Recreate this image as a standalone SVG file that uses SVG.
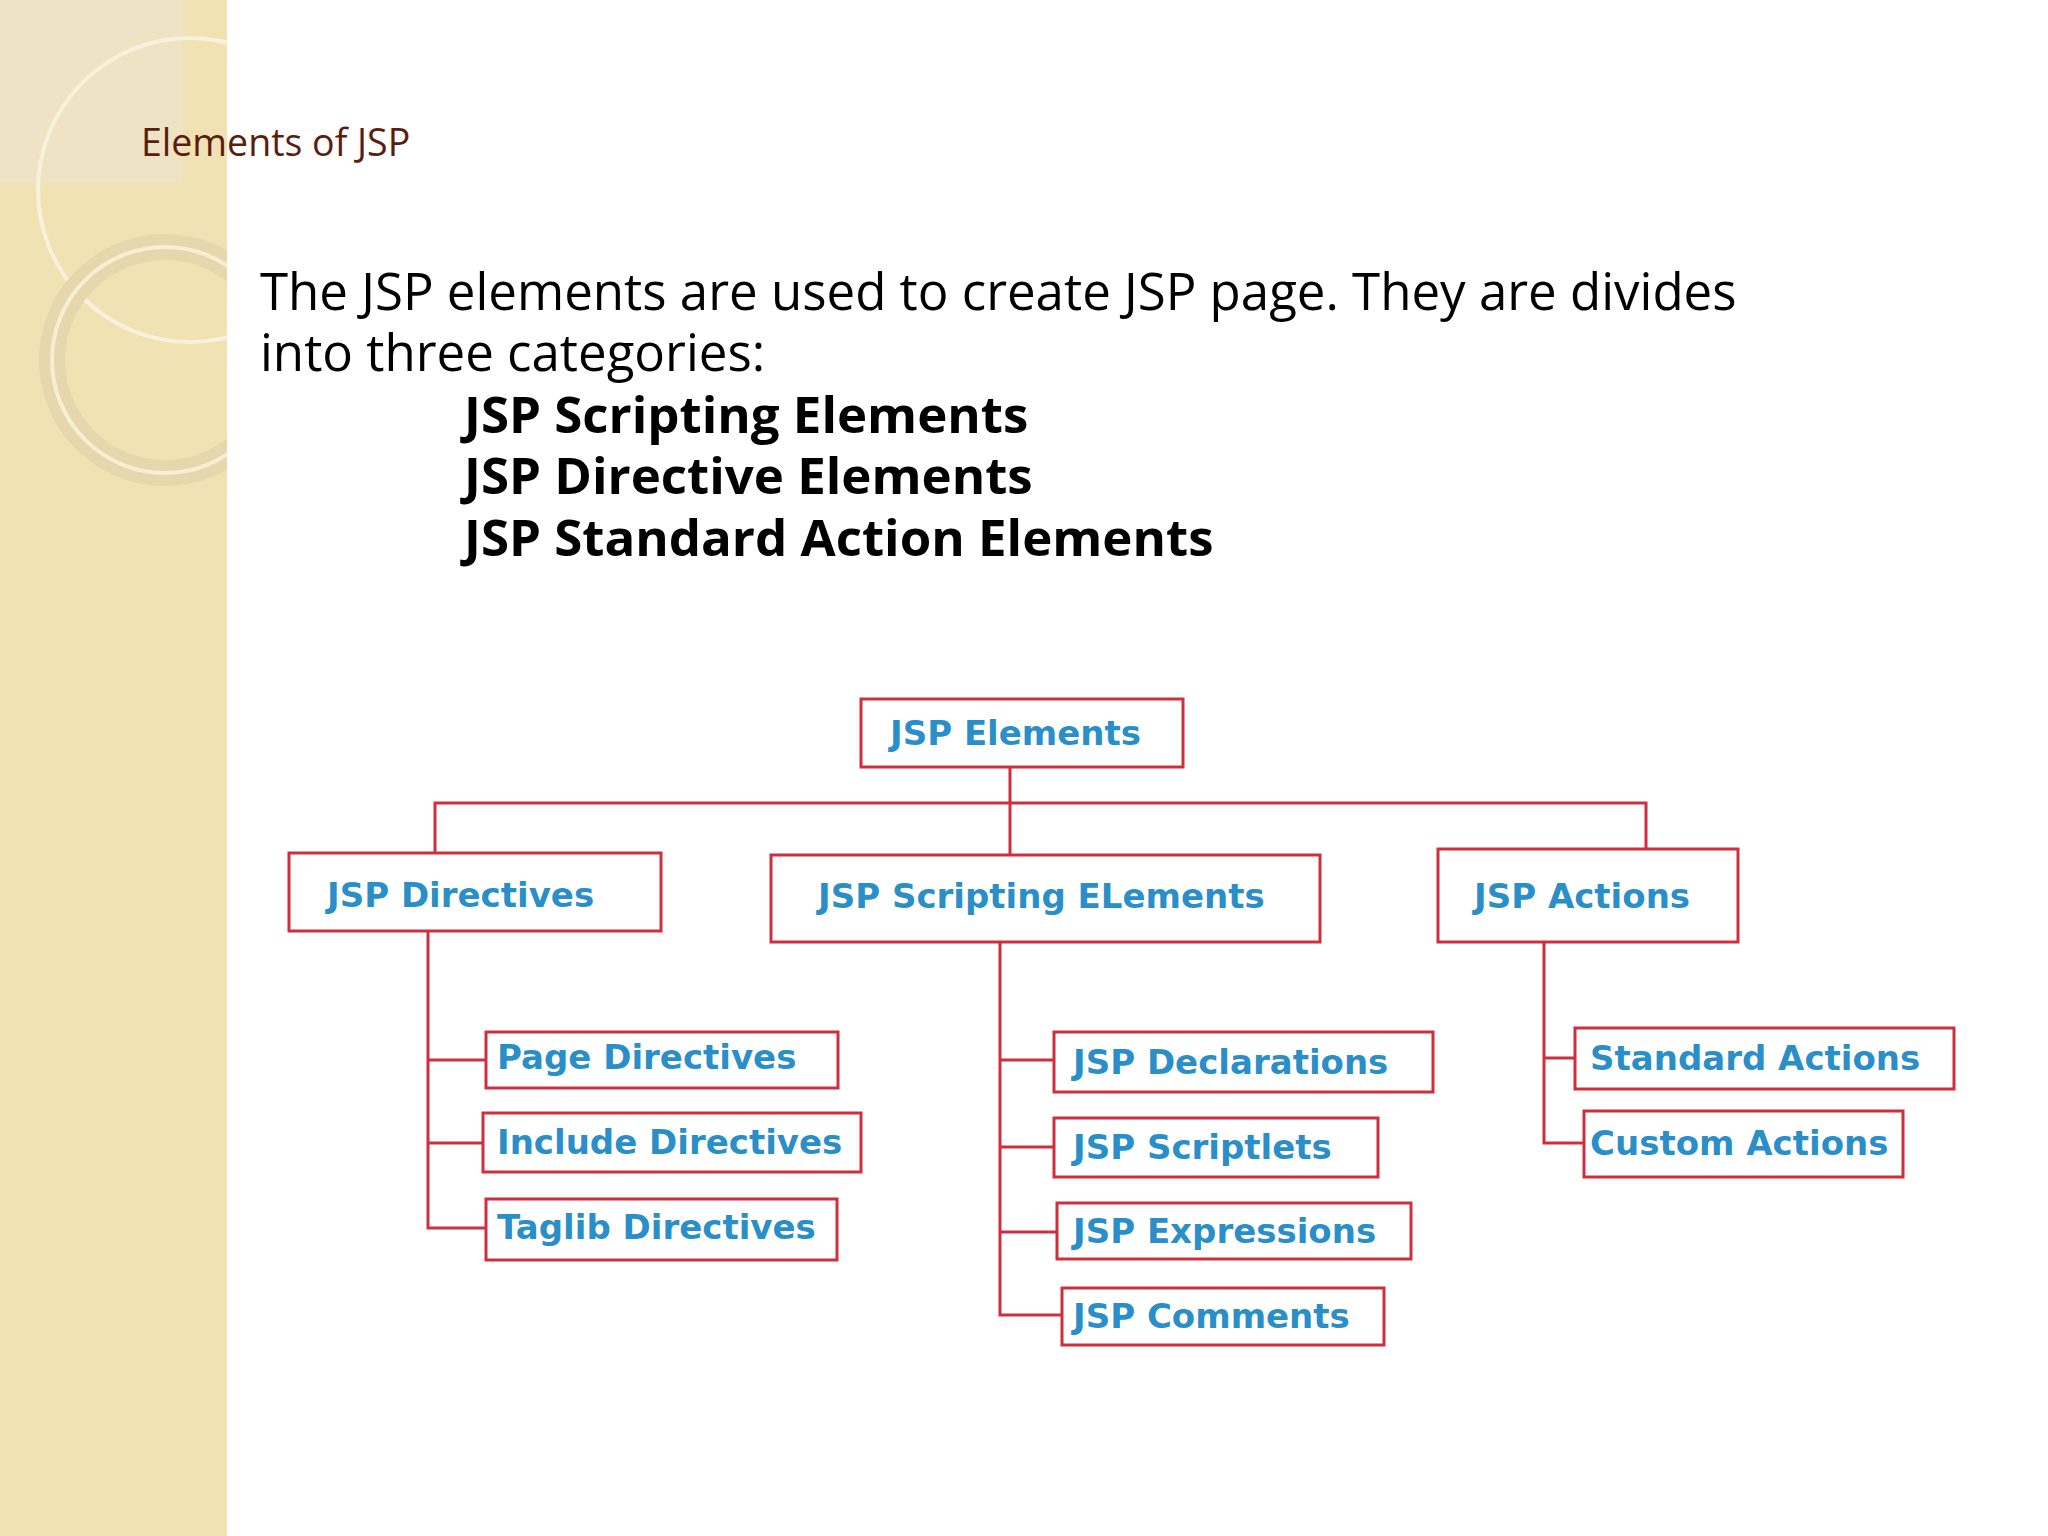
<svg xmlns="http://www.w3.org/2000/svg" width="2048" height="1536" viewBox="0 0 2048 1536">
<style>
.b{fill:#fff;stroke:#cf2e3c;stroke-width:3}
.t{font-family:"DejaVu Sans",sans-serif;font-weight:bold;font-size:34px;fill:#2a8fc8}
.c{fill:none;stroke:#cf2e3c;stroke-width:3}
.body{font-family:"Open Sans","Noto Sans",sans-serif;font-size:51px;fill:#000}
</style>
<rect width="2048" height="1536" fill="#fff"/>
<rect x="0" y="0" width="227" height="1536" fill="#f1e2b4"/>
<rect x="0" y="0" width="183" height="183" fill="#ece4cc" opacity="0.7"/>
<circle cx="190" cy="190" r="152" fill="none" stroke="#f8f1dc" stroke-width="4"/>
<circle cx="165" cy="360" r="113" fill="none" stroke="#e6d7ad" stroke-width="26"/>
<circle cx="165" cy="360" r="113" fill="none" stroke="#f7eed4" stroke-width="4"/>
<rect x="227" y="0" width="1821" height="1536" fill="#fff"/>
<text x="141" y="156" font-family="Open Sans,Noto Sans,sans-serif" font-size="37.5" fill="#5a1e0e">Elements of JSP</text>
<text class="body" x="260" y="310">The JSP elements are used to create JSP page. They are divides</text>
<text class="body" x="260" y="371">into three categories:</text>
<text class="body" x="464" y="433" font-weight="bold">JSP Scripting Elements</text>
<text class="body" x="464" y="494" font-weight="bold">JSP Directive Elements</text>
<text class="body" x="464" y="556" font-weight="bold">JSP Standard Action Elements</text>
<g id="connectors">
<path class="c" d="M1010 767V855M435 853V803H1646V849M428 931V1228H486M428 1060H486M428 1143H483M1000 942V1315H1062M1000 1060H1054M1000 1147H1054M1000 1232H1057M1544 942V1143H1584M1544 1058H1575"/>
</g>
<g id="n0"><rect class="b" x="861" y="699" width="322" height="68"/><text class="t" x="890" y="745">JSP Elements</text></g>
<g id="n1"><rect class="b" x="289" y="853" width="372" height="78"/><text class="t" x="327" y="907">JSP Directives</text></g>
<g id="n2"><rect class="b" x="771" y="855" width="549" height="87"/><text class="t" x="818" y="908">JSP Scripting ELements</text></g>
<g id="n3"><rect class="b" x="1438" y="849" width="300" height="93"/><text class="t" x="1474" y="908">JSP Actions</text></g>
<g id="n4"><rect class="b" x="486" y="1032" width="352" height="56"/><text class="t" x="497" y="1069">Page Directives</text></g>
<g id="n5"><rect class="b" x="483" y="1113" width="378" height="59"/><text class="t" x="497" y="1154">Include Directives</text></g>
<g id="n6"><rect class="b" x="486" y="1199" width="351" height="61"/><text class="t" x="497" y="1239">Taglib Directives</text></g>
<g id="n7"><rect class="b" x="1054" y="1032" width="379" height="60"/><text class="t" x="1073" y="1074">JSP Declarations</text></g>
<g id="n8"><rect class="b" x="1054" y="1118" width="324" height="59"/><text class="t" x="1073" y="1159">JSP Scriptlets</text></g>
<g id="n9"><rect class="b" x="1057" y="1203" width="354" height="56"/><text class="t" x="1073" y="1243">JSP Expressions</text></g>
<g id="n10"><rect class="b" x="1062" y="1288" width="322" height="57"/><text class="t" x="1073" y="1328">JSP Comments</text></g>
<g id="n11"><rect class="b" x="1575" y="1028" width="379" height="61"/><text class="t" x="1590" y="1070">Standard Actions</text></g>
<g id="n12"><rect class="b" x="1584" y="1111" width="319" height="66"/><text class="t" x="1590" y="1155">Custom Actions</text></g>
</svg>
